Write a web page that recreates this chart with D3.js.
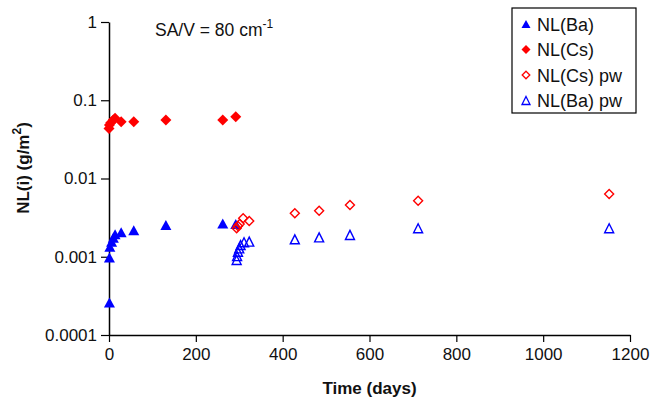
<!DOCTYPE html>
<html>
<head>
<meta charset="utf-8">
<script src="https://cdn.jsdelivr.net/npm/d3@7"></script>
<style>
  body { margin: 0; background: #fff; }
  svg { display: block; font-family: "Liberation Sans", Arial, sans-serif; }
</style>
</head>
<body>
<div id="chart"></div>
<script>
// time (days) and normalised loss NL(i) in g/m2
const baDays = [1, 1, 2, 6, 10, 14, 28, 57, 131, 262, 292];
const baValues = [0.00026, 0.00098, 0.00134, 0.00156, 0.00175, 0.00194, 0.00205, 0.00218, 0.00255, 0.00267, 0.00262];

const csDays = [0, 1, 4, 10, 14, 28, 57, 131, 262, 292];
const csValues = [0.0437, 0.0483, 0.0517, 0.0559, 0.0588, 0.0532, 0.0532, 0.0559, 0.056, 0.0617];

const csPwDays = [294, 297, 301, 309, 323, 428, 484, 555, 712, 1152];
const csPwValues = [0.00231, 0.00247, 0.00262, 0.0031, 0.00287, 0.00359, 0.00388, 0.00459, 0.0052, 0.00634];

const baPwDays = [294, 295, 297, 300, 303, 311, 323, 428, 484, 555, 712, 1152];
const baPwValues = [0.00091, 0.00102, 0.00116, 0.00128, 0.00141, 0.00153, 0.00156, 0.00167, 0.00177, 0.0019, 0.00231, 0.00231];

const xTicks = [0, 200, 400, 600, 800, 1000, 1200];
const yTicks = [0.0001, 0.001, 0.01, 0.1, 1];
const yTickLabels = ["0.0001", "0.001", "0.01", "0.1", "1"];

const legendNames = ["NL(Ba)", "NL(Cs)", "NL(Cs) pw", "NL(Ba) pw"];

const width = 664;
const height = 399;
const margin = { top: 22, right: 34, bottom: 64, left: 109 };

const svg = d3.select("#chart").append("svg")
  .attr("width", width)
  .attr("height", height);

const x = d3.scaleLinear()
  .domain([0, 1200])
  .range([margin.left, width - margin.right]);

const y = d3.scaleLog()
  .domain([0.0001, 1])
  .range([height - margin.bottom, margin.top]);

// axes
const xAxis = svg.append("g")
  .attr("transform", `translate(0,${height - margin.bottom})`)
  .call(d3.axisBottom(x).tickValues(xTicks).tickFormat(d3.format("d"))
    .tickSizeInner(7).tickSizeOuter(0).tickPadding(6));

const yAxis = svg.append("g")
  .attr("transform", `translate(${margin.left},0)`)
  .call(d3.axisLeft(y).tickValues(yTicks).tickFormat((d, i) => yTickLabels[i])
    .tickSizeInner(8).tickSizeOuter(0).tickPadding(4));

[xAxis, yAxis].forEach(g => {
  g.select(".domain").attr("stroke", "#000").attr("stroke-width", 1.5);
  g.selectAll(".tick line").attr("stroke", "#000").attr("stroke-width", 1.2);
  g.selectAll(".tick text")
    .attr("fill", "#111")
    .style("font-family", "'Liberation Sans', Arial, sans-serif")
    .style("font-size", "17px");
});

// marker paths (Excel-like: equal-sided diamond, squat triangle)
const triangle = (w, h) => `M0,${-h / 2}L${w / 2},${h / 2}L${-w / 2},${h / 2}Z`;
const diamond = r => `M0,${-r}L${r},0L0,${r}L${-r},0Z`;

const series = [
  { days: baDays, values: baValues, d: triangle(11, 10), fill: "#0000ff", stroke: "none" },
  { days: csDays, values: csValues, d: diamond(5.5), fill: "#ff0000", stroke: "none" },
  { days: csPwDays, values: csPwValues, d: diamond(4.5), fill: "none", stroke: "#ff0000" },
  { days: baPwDays, values: baPwValues, d: triangle(9, 9), fill: "none", stroke: "#0000ff" }
];

series.forEach(s => {
  svg.append("g")
    .selectAll("path")
    .data(s.days.map((d, i) => [d, s.values[i]]))
    .join("path")
    .attr("transform", d => `translate(${x(d[0])},${y(d[1])})`)
    .attr("d", s.d)
    .attr("fill", s.fill)
    .attr("stroke", s.stroke)
    .attr("stroke-width", 1.4);
});

// annotation
const note = svg.append("text")
  .attr("x", 155)
  .attr("y", 36)
  .attr("font-size", 17.5)
  .attr("fill", "#111")
  .text("SA/V = 80 cm");
note.append("tspan")
  .attr("dy", -8)
  .attr("font-size", 12)
  .text("-1");

// axis titles
svg.append("text")
  .attr("x", (margin.left + width - margin.right) / 2)
  .attr("y", 394)
  .attr("text-anchor", "middle")
  .attr("font-size", 17)
  .attr("font-weight", "bold")
  .attr("fill", "#111")
  .text("Time (days)");

const yTitle = svg.append("text")
  .attr("transform", "translate(29,168) rotate(-90)")
  .attr("text-anchor", "middle")
  .attr("font-size", 17)
  .attr("font-weight", "bold")
  .attr("fill", "#111");
yTitle.append("tspan").text("NL(i) (g/m");
yTitle.append("tspan").attr("dy", -8).attr("font-size", 12).text("2");
yTitle.append("tspan").attr("dy", 8).text(")");

// legend
const legend = svg.append("g").attr("transform", "translate(512,8)");
legend.append("rect")
  .attr("width", 124)
  .attr("height", 105)
  .attr("fill", "#fff")
  .attr("stroke", "#000")
  .attr("stroke-width", 1.2);

const legendSyms = [
  { d: triangle(9, 8), fill: "#0000ff", stroke: "none" },
  { d: diamond(4.5), fill: "#ff0000", stroke: "none" },
  { d: diamond(3.8), fill: "none", stroke: "#ff0000" },
  { d: triangle(8, 8), fill: "none", stroke: "#0000ff" }
];

legendNames.forEach((name, i) => {
  const row = legend.append("g").attr("transform", `translate(0,${16 + i * 25.5})`);
  row.append("path")
    .attr("transform", "translate(14,0)")
    .attr("d", legendSyms[i].d)
    .attr("fill", legendSyms[i].fill)
    .attr("stroke", legendSyms[i].stroke)
    .attr("stroke-width", 1.3);
  row.append("text")
    .attr("x", 25)
    .attr("y", 6.5)
    .attr("font-size", 18)
    .attr("fill", "#111")
    .text(name);
});
</script>
</body>
</html>
